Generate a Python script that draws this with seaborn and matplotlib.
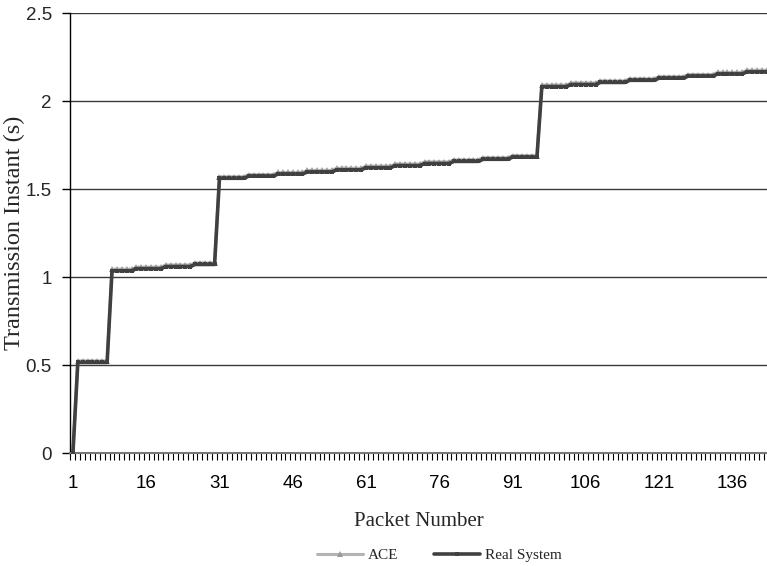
import numpy as np
import pandas as pd
import matplotlib
matplotlib.use("Agg")
import matplotlib.pyplot as plt
from matplotlib.ticker import FixedLocator
import seaborn as sns

# Niveles (cada nivel dura "counts" paquetes)
real_levels = [0.0, 0.515,
               1.036, 1.048, 1.060, 1.072,
               1.562, 1.574, 1.586, 1.598, 1.610, 1.622, 1.634, 1.646, 1.658, 1.670, 1.682,
               2.083, 2.095, 2.107, 2.119, 2.131, 2.143, 2.155, 2.167]
ace_levels = [0.0, 0.524,
              1.045, 1.057, 1.069, 1.081,
              1.571, 1.583, 1.595, 1.607, 1.619, 1.631, 1.643, 1.655, 1.667, 1.679, 1.691,
              2.092, 2.104, 2.116, 2.128, 2.140, 2.152, 2.164, 2.176]
level_counts = [1, 7,
                5, 6, 6, 5,
                6, 6, 6, 6, 6, 6, 6, 6, 6, 6, 6,
                6, 6, 6, 6, 6, 6, 6, 5]
x_labels = [1, 16, 31, 46, 61, 76, 91, 106, 121, 136]
y_ticks = [0, 0.5, 1, 1.5, 2, 2.5]

paquetes = np.arange(1, sum(level_counts) + 1)
df = pd.DataFrame({
    "paquete": paquetes,
    "ACE": np.repeat(ace_levels, level_counts),
    "Real System": np.repeat(real_levels, level_counts),
})

sns.set_theme(style="white")
plt.rcParams["font.family"] = ["Liberation Sans", "DejaVu Sans"]

fig = plt.figure(figsize=(7.67, 5.66), dpi=100)
ax = fig.add_axes([70 / 767, 1 - 453 / 566, 1 - 70 / 767, (453 - 13.3) / 566])

for y in y_ticks[1:]:
    ax.axhline(y, color="#3a3a3a", lw=1.0, zorder=0)

sns.lineplot(data=df, x="paquete", y="ACE", ax=ax, color="#b4b4b4", lw=2.2,
             marker="^", markersize=4.8, markeredgewidth=0, markerfacecolor="#999999",
             label="ACE", zorder=2)
sns.lineplot(data=df, x="paquete", y="Real System", ax=ax, color="#404040", lw=2.6,
             marker="s", markersize=3, markeredgewidth=0, markerfacecolor="#404040",
             label="Real System", zorder=3)

ax.set_xlim(0.4, 143.1)
ax.set_ylim(0, 2.5)
ax.set_yticks(y_ticks)
ax.set_yticklabels(["0", "0.5", "1", "1.5", "2", "2.5"])
ax.set_xticks(x_labels)
ax.set_xticklabels([str(v) for v in x_labels])
ax.xaxis.set_minor_locator(FixedLocator(np.arange(0.5, 143.5, 1)))
ax.tick_params(axis="x", which="major", length=0, pad=16, labelsize=13.5, colors="black")
ax.tick_params(axis="x", which="minor", bottom=True, length=5, width=0.8, color="black")
ax.tick_params(axis="y", which="major", left=True, length=6, width=1, color="black",
               labelsize=13.5, pad=7)

for s in ["top", "right"]:
    ax.spines[s].set_visible(False)
ax.spines["left"].set_color("black")
ax.spines["left"].set_linewidth(1.0)
ax.spines["bottom"].set_color("#777777")
ax.spines["bottom"].set_linewidth(1.5)

ax.set_xlabel("Packet Number", family="Liberation Serif", fontsize=15, labelpad=14)
ax.set_ylabel("Transmission Instant (s)", family="Liberation Serif", fontsize=17.5,
              va="center")
ax.yaxis.set_label_coords((14 - 70) / 697, 0.5)

leg = ax.legend(loc="center", bbox_to_anchor=(0.53, (453 - 555) / (453 - 13.3)), ncol=2,
                frameon=False, prop={"family": "Liberation Serif", "size": 11},
                handlelength=3.0, columnspacing=2.3, handletextpad=0.33)

fig.savefig("out.png", dpi=100)
